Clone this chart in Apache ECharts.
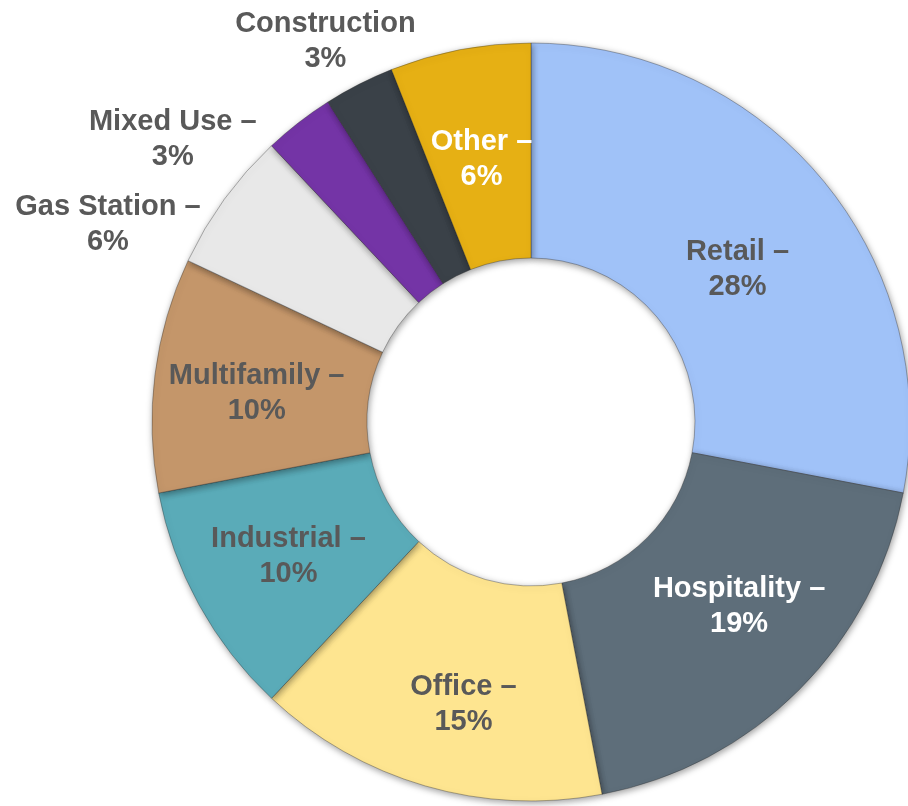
<!DOCTYPE html>
<html>
<head>
<meta charset="utf-8">
<script src="https://cdn.jsdelivr.net/npm/echarts@6/dist/echarts.min.js"></script>
<style>html,body{margin:0;padding:0;background:#fff;}#c{width:908px;height:806px;}</style>
</head>
<body>
<div id="c"></div>
<script>
const categories = ["Retail", "Hospitality", "Office", "Industrial", "Multifamily", "Gas Station", "Mixed Use", "Construction", "Other"];
const values = [28, 19, 15, 10, 10, 6, 3, 3, 6];
const colors = ["#a0c2f8", "#5e6e7a", "#fee590", "#5aabb8", "#c4966a", "#e8e8e8", "#7434a6", "#3a4148", "#e6b014"];
const labelColors = ["#595959", "#ffffff", "#595959", "#595959", "#595959", "#595959", "#595959", "#595959", "#ffffff"];
const dashed = [true, true, true, true, true, true, true, false, true];
const labelOffsets = [[-5, 22], [14, -10], [9, 19], [-2, 2], [-2, 6], [-201, -36], [-190, -66], [-81, -136], [2, 7]];

const chart = echarts.init(document.getElementById('c'), null, {renderer: 'canvas'});
const data = categories.map((name, i) => ({
  name: name,
  value: values[i],
  itemStyle: {color: colors[i]},
  label: {
    color: labelColors[i],
    offset: labelOffsets[i],
    formatter: name + (dashed[i] ? ' \u2013' : '') + '\n' + values[i] + '%'
  }
}));
chart.setOption({
  animation: false,
  series: [{
    type: 'pie',
    center: [531, 422],
    radius: [164, 379],
    startAngle: 90,
    clockwise: true,
    avoidLabelOverlap: false,
    itemStyle: {
      borderColor: 'rgba(40,40,40,0.35)',
      borderWidth: 1,
      shadowColor: 'rgba(0,0,0,0.4)',
      shadowBlur: 7,
      shadowOffsetX: 1,
      shadowOffsetY: 2
    },
    label: {
      show: true,
      position: 'inside',
      fontFamily: '"Liberation Sans", Arial, sans-serif',
      fontWeight: 'bold',
      fontSize: 29,
      lineHeight: 35,
      align: 'center'
    },
    labelLine: {show: false},
    emphasis: {disabled: true},
    data: data
  }]
});
</script>
</body>
</html>
